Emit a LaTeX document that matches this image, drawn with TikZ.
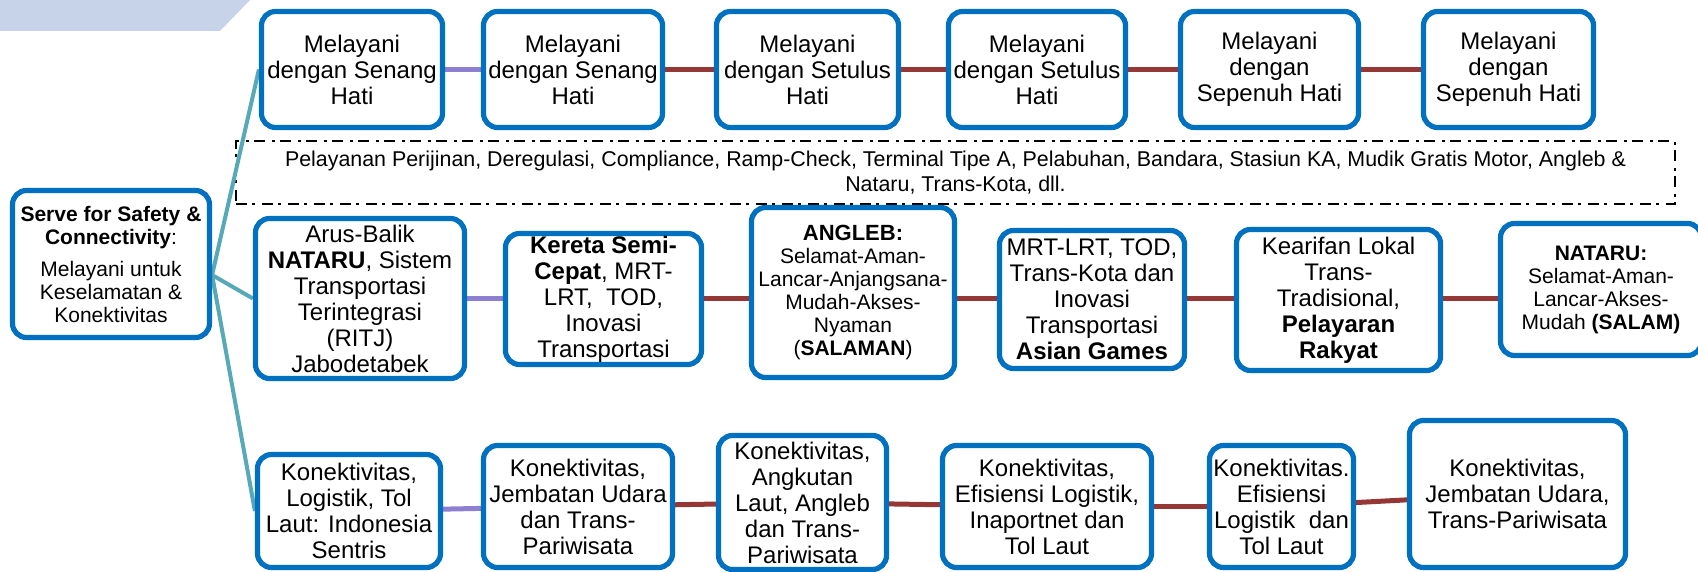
\documentclass[tikz,border=0pt]{standalone}
\usepackage{fontspec}
\setmainfont{Liberation Sans}
\usetikzlibrary{calc,backgrounds}
\definecolor{boxblue}{HTML}{0070C0}
\definecolor{purp}{HTML}{8E7FD0}
\definecolor{dred}{HTML}{953735}
\definecolor{tealline}{HTML}{57A9B7}
\definecolor{band}{HTML}{C6D3E8}
\newcommand\fbig{\fontsize{12}{13}\selectfont}
\newcommand\fmid{\fontsize{10.5}{11.5}\selectfont}
\newcommand\fdash{\fontsize{10.7}{12.5}\selectfont}
\begin{document}
\begin{tikzpicture}[x=0.5pt,y=-0.5pt,
  box/.style={draw=boxblue, line width=2.6pt, rounded corners=7pt, fill=white,
    align=center, inner sep=0pt, font=\fbig, text=black},
  dashbox/.style={draw=black, line width=1.1pt,
    dash pattern=on 5.5pt off 2.5pt on 1.5pt off 3.5pt,
    align=center, inner sep=0pt, font=\fdash, text=black},
  purpline/.style={draw=purp, line width=2.5pt},
  redline/.style={draw=dred, line width=2.5pt},
  tline/.style={draw=tealline, line width=2pt}
]
\useasboundingbox (0,0) rectangle (1698,572);
\clip (0,0) rectangle (1698,572);

% top band
\fill[band] (0,0) -- (250,0) -- (220,31) -- (0,31) -- cycle;

% root
\node[box, font=\fmid, minimum width=98.5pt, minimum height=73.5pt] (root) at (111,264)
  {\textbf{Serve for Safety \&}\\ \textbf{Connectivity}:\\[4.5pt] Melayani untuk\\ Keselamatan \&\\ Konektivitas};

% top row
\node[box, minimum width=90.5pt, minimum height=58pt] (T1) at (352,69.5) {Melayani\\ dengan Senang\\ Hati};
\node[box, minimum width=89.5pt, minimum height=58pt] (T2) at (573,69.5) {Melayani\\ dengan Senang\\ Hati};
\node[box, minimum width=91pt, minimum height=58pt] (T3) at (807.5,69.5) {Melayani\\ dengan Setulus\\ Hati};
\node[box, minimum width=88.5pt, minimum height=58pt] (T4) at (1037,69.5) {Melayani\\ dengan Setulus\\ Hati};
\node[box, minimum width=89pt, minimum height=58pt] (T5) at (1269.5,69.5) {Melayani\\ dengan\\ Sepenuh Hati};
\node[box, minimum width=85pt, minimum height=58pt] (T6) at (1508.5,69.5) {Melayani\\ dengan\\ Sepenuh Hati};

% middle row
\node[box, minimum width=104.5pt, minimum height=80pt] (M1) at (360,298.5)
  {Arus-Balik\\ \textbf{NATARU}, Sistem\\ Transportasi\\ Terintegrasi\\ (RITJ)\\ Jabodetabek};
\node[box, minimum width=98pt, minimum height=65.5pt] (M2) at (603.5,299)
  {\textbf{Kereta Semi-}\\ \textbf{Cepat}, MRT-\\ LRT,~ TOD,\\ Inovasi\\ Transportasi};
\node[box, font=\fmid, minimum width=101.5pt, minimum height=85pt] (M3) at (853,292.5)
  {\textbf{\fontsize{11}{12}\selectfont ANGLEB:}\\ Selamat-Aman-\\ Lancar-Anjangsana-\\ Mudah-Akses-\\ Nyaman\\ (\textbf{SALAMAN})};
\node[box, minimum width=92.5pt, minimum height=69pt] (M4) at (1092,299.5)
  {MRT-LRT, TOD,\\ Trans-Kota dan\\ Inovasi\\ Transportasi\\ \textbf{Asian Games}};
\node[box, minimum width=102pt, minimum height=70.5pt] (M5) at (1338.5,300)
  {Kearifan Lokal\\ Trans-\\ Tradisional,\\ \textbf{Pelayaran}\\ \textbf{Rakyat}};
\node[box, font=\fmid, minimum width=100.5pt, minimum height=66pt] (M6) at (1601,289.5)
  {\textbf{NATARU:}\\ Selamat-Aman-\\ Lancar-Akses-\\ Mudah \textbf{(SALAM)}};

% bottom row
\node[box, minimum width=91.5pt, minimum height=56.5pt] (B1) at (349,511)
  {Konektivitas,\\ Logistik, Tol\\ Laut: Indonesia\\ Sentris};
\node[box, minimum width=94.5pt, minimum height=61pt] (B2) at (578,506.5)
  {Konektivitas,\\ Jembatan Udara\\ dan Trans-\\ Pariwisata};
\node[box, minimum width=84pt, minimum height=67pt] (B3) at (802.5,502.5)
  {Konektivitas,\\ Angkutan\\ Laut, Angleb\\ dan Trans-\\ Pariwisata};
\node[box, minimum width=104.5pt, minimum height=61pt] (B4) at (1047,506.5)
  {Konektivitas,\\ Efisiensi Logistik,\\ Inaportnet dan\\ Tol Laut};
\node[box, minimum width=72pt, minimum height=61pt] (B5) at (1281.5,506.5)
  {Konektivitas.\\ Efisiensi\\ Logistik~ dan\\ Tol Laut};
\node[box, minimum width=108pt, minimum height=73.5pt] (B6) at (1517.5,494)
  {Konektivitas,\\ Jembatan Udara,\\ Trans-Pariwisata};

\begin{pgfonlayer}{background}
  \node[dashbox, minimum width=719.5pt, minimum height=31.5pt] (D) at (955.5,172.5)
    {Pelayanan Perijinan, Deregulasi, Compliance, Ramp-Check, Terminal Tipe A, Pelabuhan, Bandara, Stasiun KA, Mudik Gratis Motor, Angleb \&\\ Nataru, Trans-Kota, dll.};
  \coordinate (hub) at ($(root.east)+(0,11)$);
  \coordinate (mrow) at (0,299);
  \draw[tline] (hub) -- (T1.west);
  \draw[tline] (hub) -- (M1.west);
  \draw[tline] (hub) -- (B1.west);
  % top row connectors
  \draw[purpline] (T1) -- (T2);
  \draw[redline] (T2) -- (T3);
  \draw[redline] (T3) -- (T4);
  \draw[redline] (T4) -- (T5);
  \draw[redline] (T5) -- (T6);
  % middle row connectors
  \draw[purpline] (M1.east |- mrow) -- (M2.west |- mrow);
  \draw[redline] (M2.east |- mrow) -- (M3.west |- mrow);
  \draw[redline] (M3.east |- mrow) -- (M4.west |- mrow);
  \draw[redline] (M4.east |- mrow) -- (M5.west |- mrow);
  \draw[redline] (M5.east |- mrow) -- (M6.west |- mrow);
  % bottom row connectors
  \draw[purpline] (B1) -- (B2);
  \draw[redline] (B2) -- (B3);
  \draw[redline] (B3) -- (B4);
  \draw[redline] (B4) -- (B5);
  \draw[redline] (B5) -- (B6);
\end{pgfonlayer}
\end{tikzpicture}
\end{document}
